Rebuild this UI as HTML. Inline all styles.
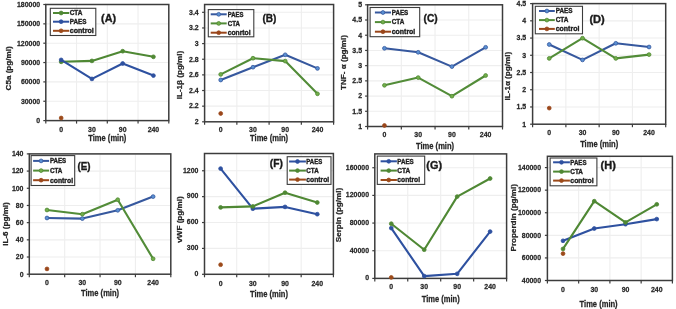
<!DOCTYPE html>
<html><head><meta charset="utf-8"><style>
html,body{margin:0;padding:0;background:#fff;}
svg{display:block;font-family:"Liberation Sans", sans-serif;}
#w{will-change:transform;width:676px;height:309px;filter:blur(0.3px);}
</style></head><body>
<div id="w"><svg width="676" height="309" viewBox="0 0 676 309"><g>
<rect width="676" height="309" fill="#fff"/>
<line x1="45.8" y1="101.25" x2="168.8" y2="101.25" stroke="#eeeeee" stroke-width="1.1"/>
<line x1="45.8" y1="81.90" x2="168.8" y2="81.90" stroke="#eeeeee" stroke-width="1.1"/>
<line x1="45.8" y1="62.55" x2="168.8" y2="62.55" stroke="#eeeeee" stroke-width="1.1"/>
<line x1="45.8" y1="43.20" x2="168.8" y2="43.20" stroke="#eeeeee" stroke-width="1.1"/>
<line x1="45.8" y1="23.85" x2="168.8" y2="23.85" stroke="#eeeeee" stroke-width="1.1"/>
<line x1="45.8" y1="4.50" x2="168.8" y2="4.50" stroke="#eeeeee" stroke-width="1.1"/>
<line x1="76.55" y1="4.5" x2="76.55" y2="120.6" stroke="#eeeeee" stroke-width="1.1"/>
<line x1="107.30" y1="4.5" x2="107.30" y2="120.6" stroke="#eeeeee" stroke-width="1.1"/>
<line x1="138.05" y1="4.5" x2="138.05" y2="120.6" stroke="#eeeeee" stroke-width="1.1"/>
<rect x="45.8" y="4.5" width="123.00" height="116.10" fill="none" stroke="#3c3c3c" stroke-width="1.5"/>
<line x1="43.3" y1="120.60" x2="45.8" y2="120.60" stroke="#3c3c3c" stroke-width="1.2"/>
<line x1="43.3" y1="101.25" x2="45.8" y2="101.25" stroke="#3c3c3c" stroke-width="1.2"/>
<line x1="43.3" y1="81.90" x2="45.8" y2="81.90" stroke="#3c3c3c" stroke-width="1.2"/>
<line x1="43.3" y1="62.55" x2="45.8" y2="62.55" stroke="#3c3c3c" stroke-width="1.2"/>
<line x1="43.3" y1="43.20" x2="45.8" y2="43.20" stroke="#3c3c3c" stroke-width="1.2"/>
<line x1="43.3" y1="23.85" x2="45.8" y2="23.85" stroke="#3c3c3c" stroke-width="1.2"/>
<line x1="43.3" y1="4.50" x2="45.8" y2="4.50" stroke="#3c3c3c" stroke-width="1.2"/>
<line x1="45.80" y1="120.6" x2="45.80" y2="123.6" stroke="#3c3c3c" stroke-width="1.2"/>
<line x1="76.55" y1="120.6" x2="76.55" y2="123.6" stroke="#3c3c3c" stroke-width="1.2"/>
<line x1="107.30" y1="120.6" x2="107.30" y2="123.6" stroke="#3c3c3c" stroke-width="1.2"/>
<line x1="138.05" y1="120.6" x2="138.05" y2="123.6" stroke="#3c3c3c" stroke-width="1.2"/>
<line x1="168.80" y1="120.6" x2="168.80" y2="123.6" stroke="#3c3c3c" stroke-width="1.2"/>
<text transform="translate(40.20,122.90) scale(0.87,1)" font-size="8" font-weight="bold" text-anchor="end" fill="#262626" stroke="#262626" stroke-width="0.25">0</text>
<text transform="translate(40.20,103.55) scale(0.87,1)" font-size="8" font-weight="bold" text-anchor="end" fill="#262626" stroke="#262626" stroke-width="0.25">30000</text>
<text transform="translate(40.20,84.20) scale(0.87,1)" font-size="8" font-weight="bold" text-anchor="end" fill="#262626" stroke="#262626" stroke-width="0.25">60000</text>
<text transform="translate(40.20,64.85) scale(0.87,1)" font-size="8" font-weight="bold" text-anchor="end" fill="#262626" stroke="#262626" stroke-width="0.25">90000</text>
<text transform="translate(40.20,45.50) scale(0.87,1)" font-size="8" font-weight="bold" text-anchor="end" fill="#262626" stroke="#262626" stroke-width="0.25">120000</text>
<text transform="translate(40.20,26.15) scale(0.87,1)" font-size="8" font-weight="bold" text-anchor="end" fill="#262626" stroke="#262626" stroke-width="0.25">150000</text>
<text transform="translate(40.20,6.80) scale(0.87,1)" font-size="8" font-weight="bold" text-anchor="end" fill="#262626" stroke="#262626" stroke-width="0.25">180000</text>
<text transform="translate(61.17,132.10) scale(0.87,1)" font-size="8" font-weight="bold" text-anchor="middle" fill="#262626" stroke="#262626" stroke-width="0.25">0</text>
<text transform="translate(91.93,132.10) scale(0.87,1)" font-size="8" font-weight="bold" text-anchor="middle" fill="#262626" stroke="#262626" stroke-width="0.25">30</text>
<text transform="translate(122.68,132.10) scale(0.87,1)" font-size="8" font-weight="bold" text-anchor="middle" fill="#262626" stroke="#262626" stroke-width="0.25">90</text>
<text transform="translate(153.43,132.10) scale(0.87,1)" font-size="8" font-weight="bold" text-anchor="middle" fill="#262626" stroke="#262626" stroke-width="0.25">240</text>
<text transform="translate(107.30,141.00) scale(0.89,1)" font-size="8.5" font-weight="bold" text-anchor="middle" fill="#262626" stroke="#262626" stroke-width="0.25">Time (min)</text>
<text transform="translate(10.60,68.40) rotate(-90) scale(1,0.97)" font-size="8.1" font-weight="bold" text-anchor="middle" fill="#262626" stroke="#262626" stroke-width="0.25">C5a (pg/ml)</text>
<polyline points="61.17,61.80 91.93,60.90 122.68,51.20 153.43,56.80" fill="none" stroke="#4f8834" stroke-width="2.1" stroke-linejoin="round"/>
<circle cx="61.17" cy="61.80" r="1.9" fill="#4f8834" stroke="#4f8834" stroke-width="0.8"/>
<circle cx="91.93" cy="60.90" r="1.9" fill="#4f8834" stroke="#4f8834" stroke-width="0.8"/>
<circle cx="122.68" cy="51.20" r="1.9" fill="#4f8834" stroke="#4f8834" stroke-width="0.8"/>
<circle cx="153.43" cy="56.80" r="1.9" fill="#4f8834" stroke="#4f8834" stroke-width="0.8"/>
<polyline points="61.17,59.90 91.93,78.90 122.68,63.50 153.43,75.60" fill="none" stroke="#2e51a0" stroke-width="2.1" stroke-linejoin="round"/>
<circle cx="61.17" cy="59.90" r="1.9" fill="#2e51a0" stroke="#2e51a0" stroke-width="0.8"/>
<circle cx="91.93" cy="78.90" r="1.9" fill="#2e51a0" stroke="#2e51a0" stroke-width="0.8"/>
<circle cx="122.68" cy="63.50" r="1.9" fill="#2e51a0" stroke="#2e51a0" stroke-width="0.8"/>
<circle cx="153.43" cy="75.60" r="1.9" fill="#2e51a0" stroke="#2e51a0" stroke-width="0.8"/>
<circle cx="61.17" cy="118.00" r="1.9" fill="#9c4a1a" stroke="#9c4a1a" stroke-width="0.8"/>
<rect x="50.3" y="8.3" width="45.50" height="27.20" fill="#fff" stroke="#3c3c3c" stroke-width="1.1"/>
<line x1="53" y1="13" x2="69.2" y2="13" stroke="#4f8834" stroke-width="2"/>
<circle cx="61.10" cy="13" r="1.9" fill="#4f8834" stroke="#4f8834" stroke-width="0.8"/>
<text x="69.70" y="15.34" font-size="6.5" font-weight="bold" fill="#1e1e1e" textLength="12.80" lengthAdjust="spacingAndGlyphs" stroke="#1e1e1e" stroke-width="0.35">CTA</text>
<line x1="53" y1="21.7" x2="69.2" y2="21.7" stroke="#2e51a0" stroke-width="2"/>
<circle cx="61.10" cy="21.7" r="1.9" fill="#2e51a0" stroke="#2e51a0" stroke-width="0.8"/>
<text x="69.70" y="24.04" font-size="6.5" font-weight="bold" fill="#1e1e1e" textLength="16.70" lengthAdjust="spacingAndGlyphs" stroke="#1e1e1e" stroke-width="0.35">PAES</text>
<line x1="53" y1="30.8" x2="69.2" y2="30.8" stroke="#9c4a1a" stroke-width="2"/>
<circle cx="61.10" cy="30.8" r="1.9" fill="#9c4a1a" stroke="#9c4a1a" stroke-width="0.8"/>
<text x="69.70" y="33.14" font-size="6.5" font-weight="bold" fill="#1e1e1e" textLength="24.10" lengthAdjust="spacingAndGlyphs" stroke="#1e1e1e" stroke-width="0.35">control</text>
<text x="108.60" y="22.10" font-size="10.5" font-weight="bold" fill="#1a1a1a" text-anchor="middle" textLength="15.00" lengthAdjust="spacingAndGlyphs" stroke="#1e1e1e" stroke-width="0.35">(A)</text>
<line x1="204.6" y1="106.16" x2="333.6" y2="106.16" stroke="#eeeeee" stroke-width="1.1"/>
<line x1="204.6" y1="90.52" x2="333.6" y2="90.52" stroke="#eeeeee" stroke-width="1.1"/>
<line x1="204.6" y1="74.88" x2="333.6" y2="74.88" stroke="#eeeeee" stroke-width="1.1"/>
<line x1="204.6" y1="59.24" x2="333.6" y2="59.24" stroke="#eeeeee" stroke-width="1.1"/>
<line x1="204.6" y1="43.60" x2="333.6" y2="43.60" stroke="#eeeeee" stroke-width="1.1"/>
<line x1="204.6" y1="27.96" x2="333.6" y2="27.96" stroke="#eeeeee" stroke-width="1.1"/>
<line x1="204.6" y1="12.32" x2="333.6" y2="12.32" stroke="#eeeeee" stroke-width="1.1"/>
<line x1="236.85" y1="4.5" x2="236.85" y2="121.8" stroke="#eeeeee" stroke-width="1.1"/>
<line x1="269.10" y1="4.5" x2="269.10" y2="121.8" stroke="#eeeeee" stroke-width="1.1"/>
<line x1="301.35" y1="4.5" x2="301.35" y2="121.8" stroke="#eeeeee" stroke-width="1.1"/>
<rect x="204.6" y="4.5" width="129.00" height="117.30" fill="none" stroke="#3c3c3c" stroke-width="1.5"/>
<line x1="202.1" y1="121.80" x2="204.6" y2="121.80" stroke="#3c3c3c" stroke-width="1.2"/>
<line x1="202.1" y1="106.16" x2="204.6" y2="106.16" stroke="#3c3c3c" stroke-width="1.2"/>
<line x1="202.1" y1="90.52" x2="204.6" y2="90.52" stroke="#3c3c3c" stroke-width="1.2"/>
<line x1="202.1" y1="74.88" x2="204.6" y2="74.88" stroke="#3c3c3c" stroke-width="1.2"/>
<line x1="202.1" y1="59.24" x2="204.6" y2="59.24" stroke="#3c3c3c" stroke-width="1.2"/>
<line x1="202.1" y1="43.60" x2="204.6" y2="43.60" stroke="#3c3c3c" stroke-width="1.2"/>
<line x1="202.1" y1="27.96" x2="204.6" y2="27.96" stroke="#3c3c3c" stroke-width="1.2"/>
<line x1="202.1" y1="12.32" x2="204.6" y2="12.32" stroke="#3c3c3c" stroke-width="1.2"/>
<line x1="204.60" y1="121.8" x2="204.60" y2="124.8" stroke="#3c3c3c" stroke-width="1.2"/>
<line x1="236.85" y1="121.8" x2="236.85" y2="124.8" stroke="#3c3c3c" stroke-width="1.2"/>
<line x1="269.10" y1="121.8" x2="269.10" y2="124.8" stroke="#3c3c3c" stroke-width="1.2"/>
<line x1="301.35" y1="121.8" x2="301.35" y2="124.8" stroke="#3c3c3c" stroke-width="1.2"/>
<line x1="333.60" y1="121.8" x2="333.60" y2="124.8" stroke="#3c3c3c" stroke-width="1.2"/>
<text transform="translate(198.70,124.10) scale(0.87,1)" font-size="8" font-weight="bold" text-anchor="end" fill="#262626" stroke="#262626" stroke-width="0.25">2</text>
<text transform="translate(198.70,108.46) scale(0.87,1)" font-size="8" font-weight="bold" text-anchor="end" fill="#262626" stroke="#262626" stroke-width="0.25">2.2</text>
<text transform="translate(198.70,92.82) scale(0.87,1)" font-size="8" font-weight="bold" text-anchor="end" fill="#262626" stroke="#262626" stroke-width="0.25">2.4</text>
<text transform="translate(198.70,77.18) scale(0.87,1)" font-size="8" font-weight="bold" text-anchor="end" fill="#262626" stroke="#262626" stroke-width="0.25">2.6</text>
<text transform="translate(198.70,61.54) scale(0.87,1)" font-size="8" font-weight="bold" text-anchor="end" fill="#262626" stroke="#262626" stroke-width="0.25">2.8</text>
<text transform="translate(198.70,45.90) scale(0.87,1)" font-size="8" font-weight="bold" text-anchor="end" fill="#262626" stroke="#262626" stroke-width="0.25">3</text>
<text transform="translate(198.70,30.26) scale(0.87,1)" font-size="8" font-weight="bold" text-anchor="end" fill="#262626" stroke="#262626" stroke-width="0.25">3.2</text>
<text transform="translate(198.70,14.62) scale(0.87,1)" font-size="8" font-weight="bold" text-anchor="end" fill="#262626" stroke="#262626" stroke-width="0.25">3.4</text>
<text transform="translate(220.72,132.00) scale(0.87,1)" font-size="8" font-weight="bold" text-anchor="middle" fill="#262626" stroke="#262626" stroke-width="0.25">0</text>
<text transform="translate(252.98,132.00) scale(0.87,1)" font-size="8" font-weight="bold" text-anchor="middle" fill="#262626" stroke="#262626" stroke-width="0.25">30</text>
<text transform="translate(285.23,132.00) scale(0.87,1)" font-size="8" font-weight="bold" text-anchor="middle" fill="#262626" stroke="#262626" stroke-width="0.25">90</text>
<text transform="translate(317.48,132.00) scale(0.87,1)" font-size="8" font-weight="bold" text-anchor="middle" fill="#262626" stroke="#262626" stroke-width="0.25">240</text>
<text transform="translate(269.10,140.90) scale(0.89,1)" font-size="8.5" font-weight="bold" text-anchor="middle" fill="#262626" stroke="#262626" stroke-width="0.25">Time (min)</text>
<text transform="translate(181.50,75.00) rotate(-90) scale(1,0.97)" font-size="8.1" font-weight="bold" text-anchor="middle" fill="#262626" stroke="#262626" stroke-width="0.25">IL-1β (pg/ml)</text>
<polyline points="220.72,80.00 252.98,67.20 285.23,54.80 317.48,68.40" fill="none" stroke="#36589e" stroke-width="2.1" stroke-linejoin="round"/>
<circle cx="220.72" cy="80.00" r="1.9" fill="#5a90d2" stroke="#36589e" stroke-width="0.8"/>
<circle cx="252.98" cy="67.20" r="1.9" fill="#5a90d2" stroke="#36589e" stroke-width="0.8"/>
<circle cx="285.23" cy="54.80" r="1.9" fill="#5a90d2" stroke="#36589e" stroke-width="0.8"/>
<circle cx="317.48" cy="68.40" r="1.9" fill="#5a90d2" stroke="#36589e" stroke-width="0.8"/>
<polyline points="220.72,74.40 252.98,58.20 285.23,61.10 317.48,93.80" fill="none" stroke="#528c38" stroke-width="2.1" stroke-linejoin="round"/>
<circle cx="220.72" cy="74.40" r="1.9" fill="#72ae4a" stroke="#4f8834" stroke-width="0.8"/>
<circle cx="252.98" cy="58.20" r="1.9" fill="#72ae4a" stroke="#4f8834" stroke-width="0.8"/>
<circle cx="285.23" cy="61.10" r="1.9" fill="#72ae4a" stroke="#4f8834" stroke-width="0.8"/>
<circle cx="317.48" cy="93.80" r="1.9" fill="#72ae4a" stroke="#4f8834" stroke-width="0.8"/>
<circle cx="220.72" cy="113.50" r="1.9" fill="#9a461a" stroke="#9a461a" stroke-width="0.8"/>
<rect x="208.3" y="9.6" width="45.50" height="27.20" fill="#fff" stroke="#3c3c3c" stroke-width="1.1"/>
<line x1="210.7" y1="14.3" x2="226.7" y2="14.3" stroke="#36589e" stroke-width="2"/>
<circle cx="218.70" cy="14.3" r="1.9" fill="#5a90d2" stroke="#36589e" stroke-width="0.8"/>
<text x="227.70" y="16.64" font-size="6.5" font-weight="bold" fill="#1e1e1e" textLength="15.70" lengthAdjust="spacingAndGlyphs" stroke="#1e1e1e" stroke-width="0.35">PAES</text>
<line x1="210.7" y1="23.4" x2="226.7" y2="23.4" stroke="#528c38" stroke-width="2"/>
<circle cx="218.70" cy="23.4" r="1.9" fill="#72ae4a" stroke="#4f8834" stroke-width="0.8"/>
<text x="227.70" y="25.74" font-size="6.5" font-weight="bold" fill="#1e1e1e" textLength="12.20" lengthAdjust="spacingAndGlyphs" stroke="#1e1e1e" stroke-width="0.35">CTA</text>
<line x1="210.7" y1="32.7" x2="226.7" y2="32.7" stroke="#9a461a" stroke-width="2"/>
<circle cx="218.70" cy="32.7" r="1.9" fill="#9a461a" stroke="#9a461a" stroke-width="0.8"/>
<text x="227.70" y="35.04" font-size="6.5" font-weight="bold" fill="#1e1e1e" textLength="22.90" lengthAdjust="spacingAndGlyphs" stroke="#1e1e1e" stroke-width="0.35">conrtol</text>
<text x="269.40" y="21.80" font-size="10.5" font-weight="bold" fill="#1a1a1a" text-anchor="middle" textLength="14.00" lengthAdjust="spacingAndGlyphs" stroke="#1e1e1e" stroke-width="0.35">(B)</text>
<line x1="367.6" y1="111.29" x2="502.5" y2="111.29" stroke="#eeeeee" stroke-width="1.1"/>
<line x1="367.6" y1="96.08" x2="502.5" y2="96.08" stroke="#eeeeee" stroke-width="1.1"/>
<line x1="367.6" y1="80.86" x2="502.5" y2="80.86" stroke="#eeeeee" stroke-width="1.1"/>
<line x1="367.6" y1="65.65" x2="502.5" y2="65.65" stroke="#eeeeee" stroke-width="1.1"/>
<line x1="367.6" y1="50.44" x2="502.5" y2="50.44" stroke="#eeeeee" stroke-width="1.1"/>
<line x1="367.6" y1="35.22" x2="502.5" y2="35.22" stroke="#eeeeee" stroke-width="1.1"/>
<line x1="367.6" y1="20.01" x2="502.5" y2="20.01" stroke="#eeeeee" stroke-width="1.1"/>
<line x1="367.6" y1="4.80" x2="502.5" y2="4.80" stroke="#eeeeee" stroke-width="1.1"/>
<line x1="401.33" y1="4.8" x2="401.33" y2="126.5" stroke="#eeeeee" stroke-width="1.1"/>
<line x1="435.05" y1="4.8" x2="435.05" y2="126.5" stroke="#eeeeee" stroke-width="1.1"/>
<line x1="468.77" y1="4.8" x2="468.77" y2="126.5" stroke="#eeeeee" stroke-width="1.1"/>
<rect x="367.6" y="4.8" width="134.90" height="121.70" fill="none" stroke="#3c3c3c" stroke-width="1.5"/>
<line x1="365.1" y1="126.50" x2="367.6" y2="126.50" stroke="#3c3c3c" stroke-width="1.2"/>
<line x1="365.1" y1="111.29" x2="367.6" y2="111.29" stroke="#3c3c3c" stroke-width="1.2"/>
<line x1="365.1" y1="96.08" x2="367.6" y2="96.08" stroke="#3c3c3c" stroke-width="1.2"/>
<line x1="365.1" y1="80.86" x2="367.6" y2="80.86" stroke="#3c3c3c" stroke-width="1.2"/>
<line x1="365.1" y1="65.65" x2="367.6" y2="65.65" stroke="#3c3c3c" stroke-width="1.2"/>
<line x1="365.1" y1="50.44" x2="367.6" y2="50.44" stroke="#3c3c3c" stroke-width="1.2"/>
<line x1="365.1" y1="35.22" x2="367.6" y2="35.22" stroke="#3c3c3c" stroke-width="1.2"/>
<line x1="365.1" y1="20.01" x2="367.6" y2="20.01" stroke="#3c3c3c" stroke-width="1.2"/>
<line x1="365.1" y1="4.80" x2="367.6" y2="4.80" stroke="#3c3c3c" stroke-width="1.2"/>
<line x1="367.60" y1="126.5" x2="367.60" y2="129.5" stroke="#3c3c3c" stroke-width="1.2"/>
<line x1="401.33" y1="126.5" x2="401.33" y2="129.5" stroke="#3c3c3c" stroke-width="1.2"/>
<line x1="435.05" y1="126.5" x2="435.05" y2="129.5" stroke="#3c3c3c" stroke-width="1.2"/>
<line x1="468.77" y1="126.5" x2="468.77" y2="129.5" stroke="#3c3c3c" stroke-width="1.2"/>
<line x1="502.50" y1="126.5" x2="502.50" y2="129.5" stroke="#3c3c3c" stroke-width="1.2"/>
<text transform="translate(362.00,128.80) scale(0.87,1)" font-size="8" font-weight="bold" text-anchor="end" fill="#262626" stroke="#262626" stroke-width="0.25">1</text>
<text transform="translate(362.00,113.59) scale(0.87,1)" font-size="8" font-weight="bold" text-anchor="end" fill="#262626" stroke="#262626" stroke-width="0.25">1.5</text>
<text transform="translate(362.00,98.38) scale(0.87,1)" font-size="8" font-weight="bold" text-anchor="end" fill="#262626" stroke="#262626" stroke-width="0.25">2</text>
<text transform="translate(362.00,83.16) scale(0.87,1)" font-size="8" font-weight="bold" text-anchor="end" fill="#262626" stroke="#262626" stroke-width="0.25">2.5</text>
<text transform="translate(362.00,67.95) scale(0.87,1)" font-size="8" font-weight="bold" text-anchor="end" fill="#262626" stroke="#262626" stroke-width="0.25">3</text>
<text transform="translate(362.00,52.74) scale(0.87,1)" font-size="8" font-weight="bold" text-anchor="end" fill="#262626" stroke="#262626" stroke-width="0.25">3.5</text>
<text transform="translate(362.00,37.52) scale(0.87,1)" font-size="8" font-weight="bold" text-anchor="end" fill="#262626" stroke="#262626" stroke-width="0.25">4</text>
<text transform="translate(362.00,22.31) scale(0.87,1)" font-size="8" font-weight="bold" text-anchor="end" fill="#262626" stroke="#262626" stroke-width="0.25">4.5</text>
<text transform="translate(362.00,7.10) scale(0.87,1)" font-size="8" font-weight="bold" text-anchor="end" fill="#262626" stroke="#262626" stroke-width="0.25">5</text>
<text transform="translate(384.46,137.30) scale(0.87,1)" font-size="8" font-weight="bold" text-anchor="middle" fill="#262626" stroke="#262626" stroke-width="0.25">0</text>
<text transform="translate(418.19,137.30) scale(0.87,1)" font-size="8" font-weight="bold" text-anchor="middle" fill="#262626" stroke="#262626" stroke-width="0.25">30</text>
<text transform="translate(451.91,137.30) scale(0.87,1)" font-size="8" font-weight="bold" text-anchor="middle" fill="#262626" stroke="#262626" stroke-width="0.25">90</text>
<text transform="translate(485.64,137.30) scale(0.87,1)" font-size="8" font-weight="bold" text-anchor="middle" fill="#262626" stroke="#262626" stroke-width="0.25">240</text>
<text transform="translate(435.05,149.00) scale(0.89,1)" font-size="8.5" font-weight="bold" text-anchor="middle" fill="#262626" stroke="#262626" stroke-width="0.25">Time (min)</text>
<text transform="translate(346.00,62.50) rotate(-90) scale(1,0.97)" font-size="8.1" font-weight="bold" text-anchor="middle" fill="#262626" stroke="#262626" stroke-width="0.25">TNF- α (pg/ml)</text>
<polyline points="384.46,48.30 418.19,52.30 451.91,66.60 485.64,47.30" fill="none" stroke="#36589e" stroke-width="2.1" stroke-linejoin="round"/>
<circle cx="384.46" cy="48.30" r="1.9" fill="#5a90d2" stroke="#36589e" stroke-width="0.8"/>
<circle cx="418.19" cy="52.30" r="1.9" fill="#5a90d2" stroke="#36589e" stroke-width="0.8"/>
<circle cx="451.91" cy="66.60" r="1.9" fill="#5a90d2" stroke="#36589e" stroke-width="0.8"/>
<circle cx="485.64" cy="47.30" r="1.9" fill="#5a90d2" stroke="#36589e" stroke-width="0.8"/>
<polyline points="384.46,85.30 418.19,77.60 451.91,96.20 485.64,75.50" fill="none" stroke="#528c38" stroke-width="2.1" stroke-linejoin="round"/>
<circle cx="384.46" cy="85.30" r="1.9" fill="#72ae4a" stroke="#4f8834" stroke-width="0.8"/>
<circle cx="418.19" cy="77.60" r="1.9" fill="#72ae4a" stroke="#4f8834" stroke-width="0.8"/>
<circle cx="451.91" cy="96.20" r="1.9" fill="#72ae4a" stroke="#4f8834" stroke-width="0.8"/>
<circle cx="485.64" cy="75.50" r="1.9" fill="#72ae4a" stroke="#4f8834" stroke-width="0.8"/>
<circle cx="384.46" cy="125.50" r="1.9" fill="#9a461a" stroke="#9a461a" stroke-width="0.8"/>
<rect x="370.1" y="7.5" width="49.60" height="29.20" fill="#fff" stroke="#3c3c3c" stroke-width="1.1"/>
<line x1="374.9" y1="12.5" x2="391" y2="12.5" stroke="#36589e" stroke-width="2"/>
<circle cx="382.95" cy="12.5" r="1.9" fill="#5a90d2" stroke="#36589e" stroke-width="0.8"/>
<text x="391.70" y="14.84" font-size="6.5" font-weight="bold" fill="#1e1e1e" textLength="16.60" lengthAdjust="spacingAndGlyphs" stroke="#1e1e1e" stroke-width="0.35">PAES</text>
<line x1="374.9" y1="22.1" x2="391" y2="22.1" stroke="#528c38" stroke-width="2"/>
<circle cx="382.95" cy="22.1" r="1.9" fill="#72ae4a" stroke="#4f8834" stroke-width="0.8"/>
<text x="391.70" y="24.44" font-size="6.5" font-weight="bold" fill="#1e1e1e" textLength="12.60" lengthAdjust="spacingAndGlyphs" stroke="#1e1e1e" stroke-width="0.35">CTA</text>
<line x1="374.9" y1="31.7" x2="391" y2="31.7" stroke="#9a461a" stroke-width="2"/>
<circle cx="382.95" cy="31.7" r="1.9" fill="#9a461a" stroke="#9a461a" stroke-width="0.8"/>
<text x="391.70" y="34.04" font-size="6.5" font-weight="bold" fill="#1e1e1e" textLength="23.60" lengthAdjust="spacingAndGlyphs" stroke="#1e1e1e" stroke-width="0.35">control</text>
<text x="430.60" y="22.00" font-size="10.5" font-weight="bold" fill="#1a1a1a" text-anchor="middle" textLength="14.20" lengthAdjust="spacingAndGlyphs" stroke="#1e1e1e" stroke-width="0.35">(C)</text>
<line x1="532.6" y1="106.97" x2="665.7" y2="106.97" stroke="#eeeeee" stroke-width="1.1"/>
<line x1="532.6" y1="89.74" x2="665.7" y2="89.74" stroke="#eeeeee" stroke-width="1.1"/>
<line x1="532.6" y1="72.51" x2="665.7" y2="72.51" stroke="#eeeeee" stroke-width="1.1"/>
<line x1="532.6" y1="55.29" x2="665.7" y2="55.29" stroke="#eeeeee" stroke-width="1.1"/>
<line x1="532.6" y1="38.06" x2="665.7" y2="38.06" stroke="#eeeeee" stroke-width="1.1"/>
<line x1="532.6" y1="20.83" x2="665.7" y2="20.83" stroke="#eeeeee" stroke-width="1.1"/>
<line x1="532.6" y1="3.60" x2="665.7" y2="3.60" stroke="#eeeeee" stroke-width="1.1"/>
<line x1="565.88" y1="3.6" x2="565.88" y2="124.2" stroke="#eeeeee" stroke-width="1.1"/>
<line x1="599.15" y1="3.6" x2="599.15" y2="124.2" stroke="#eeeeee" stroke-width="1.1"/>
<line x1="632.43" y1="3.6" x2="632.43" y2="124.2" stroke="#eeeeee" stroke-width="1.1"/>
<rect x="532.6" y="3.6" width="133.10" height="120.60" fill="none" stroke="#3c3c3c" stroke-width="1.5"/>
<line x1="530.1" y1="124.20" x2="532.6" y2="124.20" stroke="#3c3c3c" stroke-width="1.2"/>
<line x1="530.1" y1="106.97" x2="532.6" y2="106.97" stroke="#3c3c3c" stroke-width="1.2"/>
<line x1="530.1" y1="89.74" x2="532.6" y2="89.74" stroke="#3c3c3c" stroke-width="1.2"/>
<line x1="530.1" y1="72.51" x2="532.6" y2="72.51" stroke="#3c3c3c" stroke-width="1.2"/>
<line x1="530.1" y1="55.29" x2="532.6" y2="55.29" stroke="#3c3c3c" stroke-width="1.2"/>
<line x1="530.1" y1="38.06" x2="532.6" y2="38.06" stroke="#3c3c3c" stroke-width="1.2"/>
<line x1="530.1" y1="20.83" x2="532.6" y2="20.83" stroke="#3c3c3c" stroke-width="1.2"/>
<line x1="530.1" y1="3.60" x2="532.6" y2="3.60" stroke="#3c3c3c" stroke-width="1.2"/>
<line x1="532.60" y1="124.2" x2="532.60" y2="127.2" stroke="#3c3c3c" stroke-width="1.2"/>
<line x1="565.88" y1="124.2" x2="565.88" y2="127.2" stroke="#3c3c3c" stroke-width="1.2"/>
<line x1="599.15" y1="124.2" x2="599.15" y2="127.2" stroke="#3c3c3c" stroke-width="1.2"/>
<line x1="632.43" y1="124.2" x2="632.43" y2="127.2" stroke="#3c3c3c" stroke-width="1.2"/>
<line x1="665.70" y1="124.2" x2="665.70" y2="127.2" stroke="#3c3c3c" stroke-width="1.2"/>
<text transform="translate(526.20,126.50) scale(0.87,1)" font-size="8" font-weight="bold" text-anchor="end" fill="#262626" stroke="#262626" stroke-width="0.25">1</text>
<text transform="translate(526.20,109.27) scale(0.87,1)" font-size="8" font-weight="bold" text-anchor="end" fill="#262626" stroke="#262626" stroke-width="0.25">1.5</text>
<text transform="translate(526.20,92.04) scale(0.87,1)" font-size="8" font-weight="bold" text-anchor="end" fill="#262626" stroke="#262626" stroke-width="0.25">2</text>
<text transform="translate(526.20,74.81) scale(0.87,1)" font-size="8" font-weight="bold" text-anchor="end" fill="#262626" stroke="#262626" stroke-width="0.25">2.5</text>
<text transform="translate(526.20,57.59) scale(0.87,1)" font-size="8" font-weight="bold" text-anchor="end" fill="#262626" stroke="#262626" stroke-width="0.25">3</text>
<text transform="translate(526.20,40.36) scale(0.87,1)" font-size="8" font-weight="bold" text-anchor="end" fill="#262626" stroke="#262626" stroke-width="0.25">3.5</text>
<text transform="translate(526.20,23.13) scale(0.87,1)" font-size="8" font-weight="bold" text-anchor="end" fill="#262626" stroke="#262626" stroke-width="0.25">4</text>
<text transform="translate(526.20,5.90) scale(0.87,1)" font-size="8" font-weight="bold" text-anchor="end" fill="#262626" stroke="#262626" stroke-width="0.25">4.5</text>
<text transform="translate(549.24,135.30) scale(0.87,1)" font-size="8" font-weight="bold" text-anchor="middle" fill="#262626" stroke="#262626" stroke-width="0.25">0</text>
<text transform="translate(582.51,135.30) scale(0.87,1)" font-size="8" font-weight="bold" text-anchor="middle" fill="#262626" stroke="#262626" stroke-width="0.25">30</text>
<text transform="translate(615.79,135.30) scale(0.87,1)" font-size="8" font-weight="bold" text-anchor="middle" fill="#262626" stroke="#262626" stroke-width="0.25">90</text>
<text transform="translate(649.06,135.30) scale(0.87,1)" font-size="8" font-weight="bold" text-anchor="middle" fill="#262626" stroke="#262626" stroke-width="0.25">240</text>
<text transform="translate(599.15,146.70) scale(0.89,1)" font-size="8.5" font-weight="bold" text-anchor="middle" fill="#262626" stroke="#262626" stroke-width="0.25">Time (min)</text>
<text transform="translate(510.00,76.20) rotate(-90) scale(1,0.97)" font-size="8.1" font-weight="bold" text-anchor="middle" fill="#262626" stroke="#262626" stroke-width="0.25">IL-1α (pg/ml)</text>
<polyline points="549.24,44.50 582.51,59.90 615.79,43.30 649.06,47.00" fill="none" stroke="#36589e" stroke-width="2.1" stroke-linejoin="round"/>
<circle cx="549.24" cy="44.50" r="1.9" fill="#5a90d2" stroke="#36589e" stroke-width="0.8"/>
<circle cx="582.51" cy="59.90" r="1.9" fill="#5a90d2" stroke="#36589e" stroke-width="0.8"/>
<circle cx="615.79" cy="43.30" r="1.9" fill="#5a90d2" stroke="#36589e" stroke-width="0.8"/>
<circle cx="649.06" cy="47.00" r="1.9" fill="#5a90d2" stroke="#36589e" stroke-width="0.8"/>
<polyline points="549.24,58.40 582.51,38.20 615.79,58.40 649.06,54.60" fill="none" stroke="#528c38" stroke-width="2.1" stroke-linejoin="round"/>
<circle cx="549.24" cy="58.40" r="1.9" fill="#72ae4a" stroke="#4f8834" stroke-width="0.8"/>
<circle cx="582.51" cy="38.20" r="1.9" fill="#72ae4a" stroke="#4f8834" stroke-width="0.8"/>
<circle cx="615.79" cy="58.40" r="1.9" fill="#72ae4a" stroke="#4f8834" stroke-width="0.8"/>
<circle cx="649.06" cy="54.60" r="1.9" fill="#72ae4a" stroke="#4f8834" stroke-width="0.8"/>
<circle cx="549.24" cy="108.10" r="1.9" fill="#9a461a" stroke="#9a461a" stroke-width="0.8"/>
<rect x="535.3" y="6.3" width="47.20" height="27.50" fill="#fff" stroke="#3c3c3c" stroke-width="1.1"/>
<line x1="539" y1="11" x2="554.8" y2="11" stroke="#36589e" stroke-width="2"/>
<circle cx="546.90" cy="11" r="1.9" fill="#5a90d2" stroke="#36589e" stroke-width="0.8"/>
<text x="555.70" y="13.34" font-size="6.5" font-weight="bold" fill="#1e1e1e" textLength="16.80" lengthAdjust="spacingAndGlyphs" stroke="#1e1e1e" stroke-width="0.35">PAES</text>
<line x1="539" y1="20.1" x2="554.8" y2="20.1" stroke="#528c38" stroke-width="2"/>
<circle cx="546.90" cy="20.1" r="1.9" fill="#72ae4a" stroke="#4f8834" stroke-width="0.8"/>
<text x="555.70" y="22.44" font-size="6.5" font-weight="bold" fill="#1e1e1e" textLength="12.80" lengthAdjust="spacingAndGlyphs" stroke="#1e1e1e" stroke-width="0.35">CTA</text>
<line x1="539" y1="28.9" x2="554.8" y2="28.9" stroke="#9a461a" stroke-width="2"/>
<circle cx="546.90" cy="28.9" r="1.9" fill="#9a461a" stroke="#9a461a" stroke-width="0.8"/>
<text x="555.70" y="31.24" font-size="6.5" font-weight="bold" fill="#1e1e1e" textLength="23.70" lengthAdjust="spacingAndGlyphs" stroke="#1e1e1e" stroke-width="0.35">control</text>
<text x="597.10" y="22.50" font-size="10.5" font-weight="bold" fill="#1a1a1a" text-anchor="middle" textLength="15.40" lengthAdjust="spacingAndGlyphs" stroke="#1e1e1e" stroke-width="0.35">(D)</text>
<line x1="29.3" y1="257.01" x2="170.8" y2="257.01" stroke="#eeeeee" stroke-width="1.1"/>
<line x1="29.3" y1="239.83" x2="170.8" y2="239.83" stroke="#eeeeee" stroke-width="1.1"/>
<line x1="29.3" y1="222.64" x2="170.8" y2="222.64" stroke="#eeeeee" stroke-width="1.1"/>
<line x1="29.3" y1="205.46" x2="170.8" y2="205.46" stroke="#eeeeee" stroke-width="1.1"/>
<line x1="29.3" y1="188.27" x2="170.8" y2="188.27" stroke="#eeeeee" stroke-width="1.1"/>
<line x1="29.3" y1="171.09" x2="170.8" y2="171.09" stroke="#eeeeee" stroke-width="1.1"/>
<line x1="29.3" y1="153.90" x2="170.8" y2="153.90" stroke="#eeeeee" stroke-width="1.1"/>
<line x1="64.67" y1="153.9" x2="64.67" y2="274.2" stroke="#eeeeee" stroke-width="1.1"/>
<line x1="100.05" y1="153.9" x2="100.05" y2="274.2" stroke="#eeeeee" stroke-width="1.1"/>
<line x1="135.43" y1="153.9" x2="135.43" y2="274.2" stroke="#eeeeee" stroke-width="1.1"/>
<rect x="29.3" y="153.9" width="141.50" height="120.30" fill="none" stroke="#3c3c3c" stroke-width="1.5"/>
<line x1="26.8" y1="274.20" x2="29.3" y2="274.20" stroke="#3c3c3c" stroke-width="1.2"/>
<line x1="26.8" y1="257.01" x2="29.3" y2="257.01" stroke="#3c3c3c" stroke-width="1.2"/>
<line x1="26.8" y1="239.83" x2="29.3" y2="239.83" stroke="#3c3c3c" stroke-width="1.2"/>
<line x1="26.8" y1="222.64" x2="29.3" y2="222.64" stroke="#3c3c3c" stroke-width="1.2"/>
<line x1="26.8" y1="205.46" x2="29.3" y2="205.46" stroke="#3c3c3c" stroke-width="1.2"/>
<line x1="26.8" y1="188.27" x2="29.3" y2="188.27" stroke="#3c3c3c" stroke-width="1.2"/>
<line x1="26.8" y1="171.09" x2="29.3" y2="171.09" stroke="#3c3c3c" stroke-width="1.2"/>
<line x1="26.8" y1="153.90" x2="29.3" y2="153.90" stroke="#3c3c3c" stroke-width="1.2"/>
<line x1="29.30" y1="274.2" x2="29.30" y2="277.2" stroke="#3c3c3c" stroke-width="1.2"/>
<line x1="64.67" y1="274.2" x2="64.67" y2="277.2" stroke="#3c3c3c" stroke-width="1.2"/>
<line x1="100.05" y1="274.2" x2="100.05" y2="277.2" stroke="#3c3c3c" stroke-width="1.2"/>
<line x1="135.43" y1="274.2" x2="135.43" y2="277.2" stroke="#3c3c3c" stroke-width="1.2"/>
<line x1="170.80" y1="274.2" x2="170.80" y2="277.2" stroke="#3c3c3c" stroke-width="1.2"/>
<text transform="translate(23.50,276.50) scale(0.87,1)" font-size="8" font-weight="bold" text-anchor="end" fill="#262626" stroke="#262626" stroke-width="0.25">0</text>
<text transform="translate(23.50,259.31) scale(0.87,1)" font-size="8" font-weight="bold" text-anchor="end" fill="#262626" stroke="#262626" stroke-width="0.25">20</text>
<text transform="translate(23.50,242.13) scale(0.87,1)" font-size="8" font-weight="bold" text-anchor="end" fill="#262626" stroke="#262626" stroke-width="0.25">40</text>
<text transform="translate(23.50,224.94) scale(0.87,1)" font-size="8" font-weight="bold" text-anchor="end" fill="#262626" stroke="#262626" stroke-width="0.25">60</text>
<text transform="translate(23.50,207.76) scale(0.87,1)" font-size="8" font-weight="bold" text-anchor="end" fill="#262626" stroke="#262626" stroke-width="0.25">80</text>
<text transform="translate(23.50,190.57) scale(0.87,1)" font-size="8" font-weight="bold" text-anchor="end" fill="#262626" stroke="#262626" stroke-width="0.25">100</text>
<text transform="translate(23.50,173.39) scale(0.87,1)" font-size="8" font-weight="bold" text-anchor="end" fill="#262626" stroke="#262626" stroke-width="0.25">120</text>
<text transform="translate(23.50,156.20) scale(0.87,1)" font-size="8" font-weight="bold" text-anchor="end" fill="#262626" stroke="#262626" stroke-width="0.25">140</text>
<text transform="translate(46.99,285.10) scale(0.87,1)" font-size="8" font-weight="bold" text-anchor="middle" fill="#262626" stroke="#262626" stroke-width="0.25">0</text>
<text transform="translate(82.36,285.10) scale(0.87,1)" font-size="8" font-weight="bold" text-anchor="middle" fill="#262626" stroke="#262626" stroke-width="0.25">30</text>
<text transform="translate(117.74,285.10) scale(0.87,1)" font-size="8" font-weight="bold" text-anchor="middle" fill="#262626" stroke="#262626" stroke-width="0.25">90</text>
<text transform="translate(153.11,285.10) scale(0.87,1)" font-size="8" font-weight="bold" text-anchor="middle" fill="#262626" stroke="#262626" stroke-width="0.25">240</text>
<text transform="translate(100.05,295.80) scale(0.89,1)" font-size="8.5" font-weight="bold" text-anchor="middle" fill="#262626" stroke="#262626" stroke-width="0.25">Time (min)</text>
<text transform="translate(8.40,224.00) rotate(-90) scale(1,0.97)" font-size="8.1" font-weight="bold" text-anchor="middle" fill="#262626" stroke="#262626" stroke-width="0.25">IL-6 (pg/ml)</text>
<polyline points="46.99,218.00 82.36,218.60 117.74,210.30 153.11,196.60" fill="none" stroke="#36589e" stroke-width="2.1" stroke-linejoin="round"/>
<circle cx="46.99" cy="218.00" r="1.9" fill="#5a90d2" stroke="#36589e" stroke-width="0.8"/>
<circle cx="82.36" cy="218.60" r="1.9" fill="#5a90d2" stroke="#36589e" stroke-width="0.8"/>
<circle cx="117.74" cy="210.30" r="1.9" fill="#5a90d2" stroke="#36589e" stroke-width="0.8"/>
<circle cx="153.11" cy="196.60" r="1.9" fill="#5a90d2" stroke="#36589e" stroke-width="0.8"/>
<polyline points="46.99,210.00 82.36,214.20 117.74,199.70 153.11,258.80" fill="none" stroke="#528c38" stroke-width="2.1" stroke-linejoin="round"/>
<circle cx="46.99" cy="210.00" r="1.9" fill="#72ae4a" stroke="#4f8834" stroke-width="0.8"/>
<circle cx="82.36" cy="214.20" r="1.9" fill="#72ae4a" stroke="#4f8834" stroke-width="0.8"/>
<circle cx="117.74" cy="199.70" r="1.9" fill="#72ae4a" stroke="#4f8834" stroke-width="0.8"/>
<circle cx="153.11" cy="258.80" r="1.9" fill="#72ae4a" stroke="#4f8834" stroke-width="0.8"/>
<circle cx="46.99" cy="268.90" r="1.9" fill="#9a461a" stroke="#9a461a" stroke-width="0.8"/>
<rect x="31.1" y="155.6" width="43.60" height="29.90" fill="#fff" stroke="#3c3c3c" stroke-width="1.1"/>
<line x1="33.1" y1="160.9" x2="49.1" y2="160.9" stroke="#36589e" stroke-width="2"/>
<circle cx="41.10" cy="160.9" r="1.9" fill="#5a90d2" stroke="#36589e" stroke-width="0.8"/>
<text x="49.90" y="163.24" font-size="6.5" font-weight="bold" fill="#1e1e1e" textLength="16.30" lengthAdjust="spacingAndGlyphs" stroke="#1e1e1e" stroke-width="0.35">PAES</text>
<line x1="33.1" y1="170.6" x2="49.1" y2="170.6" stroke="#528c38" stroke-width="2"/>
<circle cx="41.10" cy="170.6" r="1.9" fill="#72ae4a" stroke="#4f8834" stroke-width="0.8"/>
<text x="49.90" y="172.94" font-size="6.5" font-weight="bold" fill="#1e1e1e" textLength="12.50" lengthAdjust="spacingAndGlyphs" stroke="#1e1e1e" stroke-width="0.35">CTA</text>
<line x1="33.1" y1="180.2" x2="49.1" y2="180.2" stroke="#9a461a" stroke-width="2"/>
<circle cx="41.10" cy="180.2" r="1.9" fill="#9a461a" stroke="#9a461a" stroke-width="0.8"/>
<text x="49.90" y="182.54" font-size="6.5" font-weight="bold" fill="#1e1e1e" textLength="23.20" lengthAdjust="spacingAndGlyphs" stroke="#1e1e1e" stroke-width="0.35">control</text>
<text x="84.00" y="170.10" font-size="10.5" font-weight="bold" fill="#1a1a1a" text-anchor="middle" textLength="13.10" lengthAdjust="spacingAndGlyphs" stroke="#1e1e1e" stroke-width="0.35">(E)</text>
<line x1="204.5" y1="248.41" x2="333.4" y2="248.41" stroke="#eeeeee" stroke-width="1.1"/>
<line x1="204.5" y1="222.53" x2="333.4" y2="222.53" stroke="#eeeeee" stroke-width="1.1"/>
<line x1="204.5" y1="196.64" x2="333.4" y2="196.64" stroke="#eeeeee" stroke-width="1.1"/>
<line x1="204.5" y1="170.76" x2="333.4" y2="170.76" stroke="#eeeeee" stroke-width="1.1"/>
<line x1="236.72" y1="153.5" x2="236.72" y2="274.3" stroke="#eeeeee" stroke-width="1.1"/>
<line x1="268.95" y1="153.5" x2="268.95" y2="274.3" stroke="#eeeeee" stroke-width="1.1"/>
<line x1="301.17" y1="153.5" x2="301.17" y2="274.3" stroke="#eeeeee" stroke-width="1.1"/>
<rect x="204.5" y="153.5" width="128.90" height="120.80" fill="none" stroke="#3c3c3c" stroke-width="1.5"/>
<line x1="202.0" y1="274.30" x2="204.5" y2="274.30" stroke="#3c3c3c" stroke-width="1.2"/>
<line x1="202.0" y1="248.41" x2="204.5" y2="248.41" stroke="#3c3c3c" stroke-width="1.2"/>
<line x1="202.0" y1="222.53" x2="204.5" y2="222.53" stroke="#3c3c3c" stroke-width="1.2"/>
<line x1="202.0" y1="196.64" x2="204.5" y2="196.64" stroke="#3c3c3c" stroke-width="1.2"/>
<line x1="202.0" y1="170.76" x2="204.5" y2="170.76" stroke="#3c3c3c" stroke-width="1.2"/>
<line x1="204.50" y1="274.3" x2="204.50" y2="277.3" stroke="#3c3c3c" stroke-width="1.2"/>
<line x1="236.72" y1="274.3" x2="236.72" y2="277.3" stroke="#3c3c3c" stroke-width="1.2"/>
<line x1="268.95" y1="274.3" x2="268.95" y2="277.3" stroke="#3c3c3c" stroke-width="1.2"/>
<line x1="301.17" y1="274.3" x2="301.17" y2="277.3" stroke="#3c3c3c" stroke-width="1.2"/>
<line x1="333.40" y1="274.3" x2="333.40" y2="277.3" stroke="#3c3c3c" stroke-width="1.2"/>
<text transform="translate(198.40,276.10) scale(0.87,1)" font-size="8" font-weight="bold" text-anchor="end" fill="#262626" stroke="#262626" stroke-width="0.25">0</text>
<text transform="translate(198.40,250.21) scale(0.87,1)" font-size="8" font-weight="bold" text-anchor="end" fill="#262626" stroke="#262626" stroke-width="0.25">300</text>
<text transform="translate(198.40,224.33) scale(0.87,1)" font-size="8" font-weight="bold" text-anchor="end" fill="#262626" stroke="#262626" stroke-width="0.25">600</text>
<text transform="translate(198.40,198.44) scale(0.87,1)" font-size="8" font-weight="bold" text-anchor="end" fill="#262626" stroke="#262626" stroke-width="0.25">900</text>
<text transform="translate(198.40,172.56) scale(0.87,1)" font-size="8" font-weight="bold" text-anchor="end" fill="#262626" stroke="#262626" stroke-width="0.25">1200</text>
<text transform="translate(220.61,285.50) scale(0.87,1)" font-size="8" font-weight="bold" text-anchor="middle" fill="#262626" stroke="#262626" stroke-width="0.25">0</text>
<text transform="translate(252.84,285.50) scale(0.87,1)" font-size="8" font-weight="bold" text-anchor="middle" fill="#262626" stroke="#262626" stroke-width="0.25">30</text>
<text transform="translate(285.06,285.50) scale(0.87,1)" font-size="8" font-weight="bold" text-anchor="middle" fill="#262626" stroke="#262626" stroke-width="0.25">90</text>
<text transform="translate(317.29,285.50) scale(0.87,1)" font-size="8" font-weight="bold" text-anchor="middle" fill="#262626" stroke="#262626" stroke-width="0.25">240</text>
<text transform="translate(268.95,296.60) scale(0.89,1)" font-size="8.5" font-weight="bold" text-anchor="middle" fill="#262626" stroke="#262626" stroke-width="0.25">Time (min)</text>
<text transform="translate(182.30,219.50) rotate(-90) scale(1,0.97)" font-size="8.1" font-weight="bold" text-anchor="middle" fill="#262626" stroke="#262626" stroke-width="0.25">vWF (pg/ml)</text>
<polyline points="220.61,168.60 252.84,208.70 285.06,206.90 317.29,214.20" fill="none" stroke="#2e51a0" stroke-width="2.1" stroke-linejoin="round"/>
<circle cx="220.61" cy="168.60" r="1.9" fill="#2e51a0" stroke="#2e51a0" stroke-width="0.8"/>
<circle cx="252.84" cy="208.70" r="1.9" fill="#2e51a0" stroke="#2e51a0" stroke-width="0.8"/>
<circle cx="285.06" cy="206.90" r="1.9" fill="#2e51a0" stroke="#2e51a0" stroke-width="0.8"/>
<circle cx="317.29" cy="214.20" r="1.9" fill="#2e51a0" stroke="#2e51a0" stroke-width="0.8"/>
<polyline points="220.61,207.40 252.84,206.40 285.06,192.70 317.29,202.50" fill="none" stroke="#4f8834" stroke-width="2.1" stroke-linejoin="round"/>
<circle cx="220.61" cy="207.40" r="1.9" fill="#4f8834" stroke="#4f8834" stroke-width="0.8"/>
<circle cx="252.84" cy="206.40" r="1.9" fill="#4f8834" stroke="#4f8834" stroke-width="0.8"/>
<circle cx="285.06" cy="192.70" r="1.9" fill="#4f8834" stroke="#4f8834" stroke-width="0.8"/>
<circle cx="317.29" cy="202.50" r="1.9" fill="#4f8834" stroke="#4f8834" stroke-width="0.8"/>
<circle cx="220.61" cy="264.70" r="1.9" fill="#9c4a1a" stroke="#9c4a1a" stroke-width="0.8"/>
<rect x="287.2" y="156.7" width="43.80" height="27.70" fill="#fff" stroke="#3c3c3c" stroke-width="1.1"/>
<line x1="289.1" y1="161.5" x2="305.9" y2="161.5" stroke="#2e51a0" stroke-width="2"/>
<circle cx="297.50" cy="161.5" r="1.9" fill="#2e51a0" stroke="#2e51a0" stroke-width="0.8"/>
<text x="306.30" y="163.84" font-size="6.5" font-weight="bold" fill="#1e1e1e" textLength="15.90" lengthAdjust="spacingAndGlyphs" stroke="#1e1e1e" stroke-width="0.35">PAES</text>
<line x1="289.1" y1="170.6" x2="305.9" y2="170.6" stroke="#4f8834" stroke-width="2"/>
<circle cx="297.50" cy="170.6" r="1.9" fill="#4f8834" stroke="#4f8834" stroke-width="0.8"/>
<text x="306.30" y="172.94" font-size="6.5" font-weight="bold" fill="#1e1e1e" textLength="12.40" lengthAdjust="spacingAndGlyphs" stroke="#1e1e1e" stroke-width="0.35">CTA</text>
<line x1="289.1" y1="179.6" x2="305.9" y2="179.6" stroke="#9c4a1a" stroke-width="2"/>
<circle cx="297.50" cy="179.6" r="1.9" fill="#9c4a1a" stroke="#9c4a1a" stroke-width="0.8"/>
<text x="306.30" y="181.94" font-size="6.5" font-weight="bold" fill="#1e1e1e" textLength="22.90" lengthAdjust="spacingAndGlyphs" stroke="#1e1e1e" stroke-width="0.35">control</text>
<text x="276.30" y="167.20" font-size="10.5" font-weight="bold" fill="#1a1a1a" text-anchor="middle" textLength="13.10" lengthAdjust="spacingAndGlyphs" stroke="#1e1e1e" stroke-width="0.35">(F)</text>
<line x1="374.8" y1="250.73" x2="506.6" y2="250.73" stroke="#eeeeee" stroke-width="1.1"/>
<line x1="374.8" y1="223.07" x2="506.6" y2="223.07" stroke="#eeeeee" stroke-width="1.1"/>
<line x1="374.8" y1="195.40" x2="506.6" y2="195.40" stroke="#eeeeee" stroke-width="1.1"/>
<line x1="374.8" y1="167.73" x2="506.6" y2="167.73" stroke="#eeeeee" stroke-width="1.1"/>
<line x1="407.75" y1="153.9" x2="407.75" y2="278.4" stroke="#eeeeee" stroke-width="1.1"/>
<line x1="440.70" y1="153.9" x2="440.70" y2="278.4" stroke="#eeeeee" stroke-width="1.1"/>
<line x1="473.65" y1="153.9" x2="473.65" y2="278.4" stroke="#eeeeee" stroke-width="1.1"/>
<rect x="374.8" y="153.9" width="131.80" height="124.50" fill="none" stroke="#3c3c3c" stroke-width="1.5"/>
<line x1="372.3" y1="278.40" x2="374.8" y2="278.40" stroke="#3c3c3c" stroke-width="1.2"/>
<line x1="372.3" y1="250.73" x2="374.8" y2="250.73" stroke="#3c3c3c" stroke-width="1.2"/>
<line x1="372.3" y1="223.07" x2="374.8" y2="223.07" stroke="#3c3c3c" stroke-width="1.2"/>
<line x1="372.3" y1="195.40" x2="374.8" y2="195.40" stroke="#3c3c3c" stroke-width="1.2"/>
<line x1="372.3" y1="167.73" x2="374.8" y2="167.73" stroke="#3c3c3c" stroke-width="1.2"/>
<line x1="374.80" y1="278.4" x2="374.80" y2="281.4" stroke="#3c3c3c" stroke-width="1.2"/>
<line x1="407.75" y1="278.4" x2="407.75" y2="281.4" stroke="#3c3c3c" stroke-width="1.2"/>
<line x1="440.70" y1="278.4" x2="440.70" y2="281.4" stroke="#3c3c3c" stroke-width="1.2"/>
<line x1="473.65" y1="278.4" x2="473.65" y2="281.4" stroke="#3c3c3c" stroke-width="1.2"/>
<line x1="506.60" y1="278.4" x2="506.60" y2="281.4" stroke="#3c3c3c" stroke-width="1.2"/>
<text transform="translate(369.00,280.30) scale(0.87,1)" font-size="8" font-weight="bold" text-anchor="end" fill="#262626" stroke="#262626" stroke-width="0.25">0</text>
<text transform="translate(369.00,252.63) scale(0.87,1)" font-size="8" font-weight="bold" text-anchor="end" fill="#262626" stroke="#262626" stroke-width="0.25">40000</text>
<text transform="translate(369.00,224.97) scale(0.87,1)" font-size="8" font-weight="bold" text-anchor="end" fill="#262626" stroke="#262626" stroke-width="0.25">80000</text>
<text transform="translate(369.00,197.30) scale(0.87,1)" font-size="8" font-weight="bold" text-anchor="end" fill="#262626" stroke="#262626" stroke-width="0.25">120000</text>
<text transform="translate(369.00,169.63) scale(0.87,1)" font-size="8" font-weight="bold" text-anchor="end" fill="#262626" stroke="#262626" stroke-width="0.25">160000</text>
<text transform="translate(391.28,289.30) scale(0.87,1)" font-size="8" font-weight="bold" text-anchor="middle" fill="#262626" stroke="#262626" stroke-width="0.25">0</text>
<text transform="translate(424.23,289.30) scale(0.87,1)" font-size="8" font-weight="bold" text-anchor="middle" fill="#262626" stroke="#262626" stroke-width="0.25">30</text>
<text transform="translate(457.18,289.30) scale(0.87,1)" font-size="8" font-weight="bold" text-anchor="middle" fill="#262626" stroke="#262626" stroke-width="0.25">90</text>
<text transform="translate(490.12,289.30) scale(0.87,1)" font-size="8" font-weight="bold" text-anchor="middle" fill="#262626" stroke="#262626" stroke-width="0.25">240</text>
<text transform="translate(440.70,302.00) scale(0.89,1)" font-size="8.5" font-weight="bold" text-anchor="middle" fill="#262626" stroke="#262626" stroke-width="0.25">Time (min)</text>
<text transform="translate(341.00,215.00) rotate(-90) scale(1,0.97)" font-size="8.1" font-weight="bold" text-anchor="middle" fill="#262626" stroke="#262626" stroke-width="0.25">Serpin (pg/ml)</text>
<polyline points="391.28,228.10 424.23,276.10 457.18,273.80 490.12,231.60" fill="none" stroke="#2e51a0" stroke-width="2.1" stroke-linejoin="round"/>
<circle cx="391.28" cy="228.10" r="1.9" fill="#2e51a0" stroke="#2e51a0" stroke-width="0.8"/>
<circle cx="424.23" cy="276.10" r="1.9" fill="#2e51a0" stroke="#2e51a0" stroke-width="0.8"/>
<circle cx="457.18" cy="273.80" r="1.9" fill="#2e51a0" stroke="#2e51a0" stroke-width="0.8"/>
<circle cx="490.12" cy="231.60" r="1.9" fill="#2e51a0" stroke="#2e51a0" stroke-width="0.8"/>
<polyline points="391.28,223.70 424.23,249.70 457.18,196.60 490.12,178.50" fill="none" stroke="#4f8834" stroke-width="2.1" stroke-linejoin="round"/>
<circle cx="391.28" cy="223.70" r="1.9" fill="#4f8834" stroke="#4f8834" stroke-width="0.8"/>
<circle cx="424.23" cy="249.70" r="1.9" fill="#4f8834" stroke="#4f8834" stroke-width="0.8"/>
<circle cx="457.18" cy="196.60" r="1.9" fill="#4f8834" stroke="#4f8834" stroke-width="0.8"/>
<circle cx="490.12" cy="178.50" r="1.9" fill="#4f8834" stroke="#4f8834" stroke-width="0.8"/>
<circle cx="391.28" cy="277.40" r="1.9" fill="#9c4a1a" stroke="#9c4a1a" stroke-width="0.8"/>
<rect x="377.3" y="156.1" width="47.40" height="28.30" fill="#fff" stroke="#3c3c3c" stroke-width="1.1"/>
<line x1="380.6" y1="161.3" x2="396.9" y2="161.3" stroke="#2e51a0" stroke-width="2"/>
<circle cx="388.75" cy="161.3" r="1.9" fill="#2e51a0" stroke="#2e51a0" stroke-width="0.8"/>
<text x="397.30" y="163.64" font-size="6.5" font-weight="bold" fill="#1e1e1e" textLength="16.40" lengthAdjust="spacingAndGlyphs" stroke="#1e1e1e" stroke-width="0.35">PAES</text>
<line x1="380.6" y1="170.6" x2="396.9" y2="170.6" stroke="#4f8834" stroke-width="2"/>
<circle cx="388.75" cy="170.6" r="1.9" fill="#4f8834" stroke="#4f8834" stroke-width="0.8"/>
<text x="397.30" y="172.94" font-size="6.5" font-weight="bold" fill="#1e1e1e" textLength="13.00" lengthAdjust="spacingAndGlyphs" stroke="#1e1e1e" stroke-width="0.35">CTA</text>
<line x1="380.6" y1="180" x2="396.9" y2="180" stroke="#9c4a1a" stroke-width="2"/>
<circle cx="388.75" cy="180" r="1.9" fill="#9c4a1a" stroke="#9c4a1a" stroke-width="0.8"/>
<text x="397.30" y="182.34" font-size="6.5" font-weight="bold" fill="#1e1e1e" textLength="22.80" lengthAdjust="spacingAndGlyphs" stroke="#1e1e1e" stroke-width="0.35">control</text>
<text x="434.20" y="168.50" font-size="10.5" font-weight="bold" fill="#1a1a1a" text-anchor="middle" textLength="15.70" lengthAdjust="spacingAndGlyphs" stroke="#1e1e1e" stroke-width="0.35">(G)</text>
<line x1="547.4" y1="257.92" x2="672.4" y2="257.92" stroke="#eeeeee" stroke-width="1.1"/>
<line x1="547.4" y1="235.34" x2="672.4" y2="235.34" stroke="#eeeeee" stroke-width="1.1"/>
<line x1="547.4" y1="212.75" x2="672.4" y2="212.75" stroke="#eeeeee" stroke-width="1.1"/>
<line x1="547.4" y1="190.17" x2="672.4" y2="190.17" stroke="#eeeeee" stroke-width="1.1"/>
<line x1="547.4" y1="167.59" x2="672.4" y2="167.59" stroke="#eeeeee" stroke-width="1.1"/>
<line x1="578.65" y1="156.3" x2="578.65" y2="280.5" stroke="#eeeeee" stroke-width="1.1"/>
<line x1="609.90" y1="156.3" x2="609.90" y2="280.5" stroke="#eeeeee" stroke-width="1.1"/>
<line x1="641.15" y1="156.3" x2="641.15" y2="280.5" stroke="#eeeeee" stroke-width="1.1"/>
<rect x="547.4" y="156.3" width="125.00" height="124.20" fill="none" stroke="#3c3c3c" stroke-width="1.5"/>
<line x1="544.9" y1="280.50" x2="547.4" y2="280.50" stroke="#3c3c3c" stroke-width="1.2"/>
<line x1="544.9" y1="257.92" x2="547.4" y2="257.92" stroke="#3c3c3c" stroke-width="1.2"/>
<line x1="544.9" y1="235.34" x2="547.4" y2="235.34" stroke="#3c3c3c" stroke-width="1.2"/>
<line x1="544.9" y1="212.75" x2="547.4" y2="212.75" stroke="#3c3c3c" stroke-width="1.2"/>
<line x1="544.9" y1="190.17" x2="547.4" y2="190.17" stroke="#3c3c3c" stroke-width="1.2"/>
<line x1="544.9" y1="167.59" x2="547.4" y2="167.59" stroke="#3c3c3c" stroke-width="1.2"/>
<line x1="547.40" y1="280.5" x2="547.40" y2="283.5" stroke="#3c3c3c" stroke-width="1.2"/>
<line x1="578.65" y1="280.5" x2="578.65" y2="283.5" stroke="#3c3c3c" stroke-width="1.2"/>
<line x1="609.90" y1="280.5" x2="609.90" y2="283.5" stroke="#3c3c3c" stroke-width="1.2"/>
<line x1="641.15" y1="280.5" x2="641.15" y2="283.5" stroke="#3c3c3c" stroke-width="1.2"/>
<line x1="672.40" y1="280.5" x2="672.40" y2="283.5" stroke="#3c3c3c" stroke-width="1.2"/>
<text transform="translate(541.10,282.80) scale(0.87,1)" font-size="8" font-weight="bold" text-anchor="end" fill="#262626" stroke="#262626" stroke-width="0.25">40000</text>
<text transform="translate(541.10,260.22) scale(0.87,1)" font-size="8" font-weight="bold" text-anchor="end" fill="#262626" stroke="#262626" stroke-width="0.25">60000</text>
<text transform="translate(541.10,237.64) scale(0.87,1)" font-size="8" font-weight="bold" text-anchor="end" fill="#262626" stroke="#262626" stroke-width="0.25">80000</text>
<text transform="translate(541.10,215.05) scale(0.87,1)" font-size="8" font-weight="bold" text-anchor="end" fill="#262626" stroke="#262626" stroke-width="0.25">100000</text>
<text transform="translate(541.10,192.47) scale(0.87,1)" font-size="8" font-weight="bold" text-anchor="end" fill="#262626" stroke="#262626" stroke-width="0.25">120000</text>
<text transform="translate(541.10,169.89) scale(0.87,1)" font-size="8" font-weight="bold" text-anchor="end" fill="#262626" stroke="#262626" stroke-width="0.25">140000</text>
<text transform="translate(563.02,291.90) scale(0.87,1)" font-size="8" font-weight="bold" text-anchor="middle" fill="#262626" stroke="#262626" stroke-width="0.25">0</text>
<text transform="translate(594.27,291.90) scale(0.87,1)" font-size="8" font-weight="bold" text-anchor="middle" fill="#262626" stroke="#262626" stroke-width="0.25">30</text>
<text transform="translate(625.52,291.90) scale(0.87,1)" font-size="8" font-weight="bold" text-anchor="middle" fill="#262626" stroke="#262626" stroke-width="0.25">90</text>
<text transform="translate(656.77,291.90) scale(0.87,1)" font-size="8" font-weight="bold" text-anchor="middle" fill="#262626" stroke="#262626" stroke-width="0.25">240</text>
<text transform="translate(598.60,307.00) scale(0.89,1)" font-size="8.5" font-weight="bold" text-anchor="middle" fill="#262626" stroke="#262626" stroke-width="0.25">Time (min)</text>
<text transform="translate(515.50,217.80) rotate(-90) scale(1,0.97)" font-size="8.1" font-weight="bold" text-anchor="middle" fill="#262626" stroke="#262626" stroke-width="0.25">Properdin (pg/ml)</text>
<polyline points="563.02,240.80 594.27,228.50 625.52,224.20 656.77,219.10" fill="none" stroke="#2e51a0" stroke-width="2.1" stroke-linejoin="round"/>
<circle cx="563.02" cy="240.80" r="1.9" fill="#2e51a0" stroke="#2e51a0" stroke-width="0.8"/>
<circle cx="594.27" cy="228.50" r="1.9" fill="#2e51a0" stroke="#2e51a0" stroke-width="0.8"/>
<circle cx="625.52" cy="224.20" r="1.9" fill="#2e51a0" stroke="#2e51a0" stroke-width="0.8"/>
<circle cx="656.77" cy="219.10" r="1.9" fill="#2e51a0" stroke="#2e51a0" stroke-width="0.8"/>
<polyline points="563.02,248.90 594.27,201.20 625.52,222.40 656.77,204.30" fill="none" stroke="#4f8834" stroke-width="2.1" stroke-linejoin="round"/>
<circle cx="563.02" cy="248.90" r="1.9" fill="#4f8834" stroke="#4f8834" stroke-width="0.8"/>
<circle cx="594.27" cy="201.20" r="1.9" fill="#4f8834" stroke="#4f8834" stroke-width="0.8"/>
<circle cx="625.52" cy="222.40" r="1.9" fill="#4f8834" stroke="#4f8834" stroke-width="0.8"/>
<circle cx="656.77" cy="204.30" r="1.9" fill="#4f8834" stroke="#4f8834" stroke-width="0.8"/>
<circle cx="563.02" cy="253.60" r="1.9" fill="#9c4a1a" stroke="#9c4a1a" stroke-width="0.8"/>
<rect x="550.1" y="158" width="46.80" height="27.80" fill="#fff" stroke="#3c3c3c" stroke-width="1.1"/>
<line x1="553.1" y1="162.3" x2="569.9" y2="162.3" stroke="#2e51a0" stroke-width="2"/>
<circle cx="561.50" cy="162.3" r="1.9" fill="#2e51a0" stroke="#2e51a0" stroke-width="0.8"/>
<text x="570.30" y="164.64" font-size="6.5" font-weight="bold" fill="#1e1e1e" textLength="16.20" lengthAdjust="spacingAndGlyphs" stroke="#1e1e1e" stroke-width="0.35">PAES</text>
<line x1="553.1" y1="171.6" x2="569.9" y2="171.6" stroke="#4f8834" stroke-width="2"/>
<circle cx="561.50" cy="171.6" r="1.9" fill="#4f8834" stroke="#4f8834" stroke-width="0.8"/>
<text x="570.30" y="173.94" font-size="6.5" font-weight="bold" fill="#1e1e1e" textLength="12.70" lengthAdjust="spacingAndGlyphs" stroke="#1e1e1e" stroke-width="0.35">CTA</text>
<line x1="553.1" y1="180.6" x2="569.9" y2="180.6" stroke="#9c4a1a" stroke-width="2"/>
<circle cx="561.50" cy="180.6" r="1.9" fill="#9c4a1a" stroke="#9c4a1a" stroke-width="0.8"/>
<text x="570.30" y="182.94" font-size="6.5" font-weight="bold" fill="#1e1e1e" textLength="23.40" lengthAdjust="spacingAndGlyphs" stroke="#1e1e1e" stroke-width="0.35">control</text>
<text x="608.20" y="168.90" font-size="10.5" font-weight="bold" fill="#1a1a1a" text-anchor="middle" textLength="15.30" lengthAdjust="spacingAndGlyphs" stroke="#1e1e1e" stroke-width="0.35">(H)</text>
</g></svg></div>
</body></html>
